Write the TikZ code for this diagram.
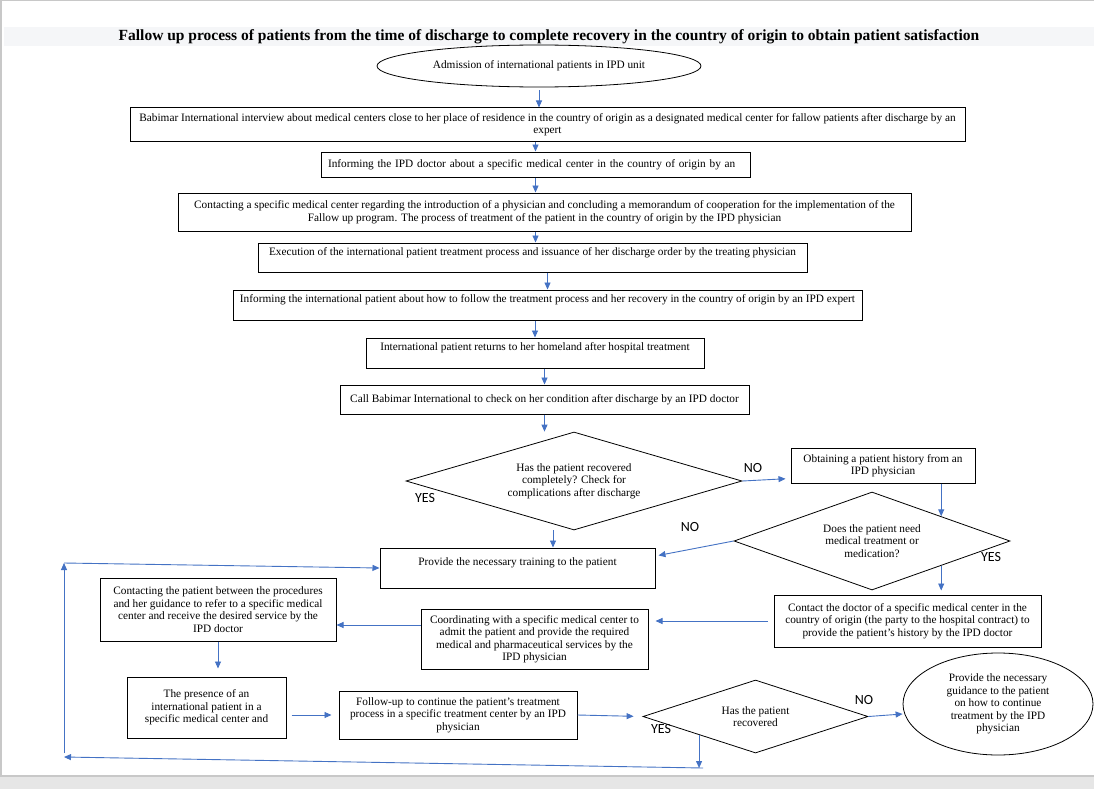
\documentclass[tikz,border=0pt]{standalone}
\usepackage{fontspec}
\setmainfont{Liberation Serif}
\newfontfamily\labelfont{Carlito}
\usetikzlibrary{shapes.geometric,arrows.meta}
\definecolor{flowblue}{HTML}{4472C4}
\definecolor{pagegray}{HTML}{E6E6E6}
\definecolor{edgegray}{HTML}{C8C8C8}
\definecolor{titleband}{HTML}{F5F6F8}

\begin{document}
\begin{tikzpicture}[x=1pt, y=-1pt,
    box/.style={rectangle, draw, line width=1pt, inner sep=2pt, align=center, font=\fontsize{11.3}{12.5}\selectfont},
    decision/.style={diamond, draw, line width=0.8pt, inner sep=0pt, align=center, font=\fontsize{11.3}{12.5}\selectfont},
    oval/.style={ellipse, draw, line width=0.8pt, inner sep=0pt, align=center, font=\fontsize{11.3}{12.5}\selectfont},
    flow/.style={draw=flowblue, line width=0.9pt, -{Triangle[width=6pt,length=7pt]}},
    answer/.style={font=\labelfont\fontsize{14}{14}\selectfont, inner sep=0pt}
]
\useasboundingbox (0,0) rectangle (1094,789);
\fill[white] (0,0) rectangle (1094,789);
\fill[pagegray] (0,776) rectangle (1094,789);
\draw[edgegray, line width=1.5pt] (0,776) -- (1094,776);
\draw[edgegray, line width=1.5pt] (0,0.75) -- (1094,0.75);
\draw[edgegray, line width=1.5pt] (0.75,0) -- (0.75,776);
\fill[titleband] (4,27) rectangle (1094,46);

\node[font=\bfseries\fontsize{15.5}{17}\selectfont] (title) at (549,37) {Fallow up process of patients from the time of discharge to complete recovery in the country of origin to obtain patient satisfaction};

\node[oval, minimum width=324pt, minimum height=42pt] (admit) at (539,66) {Admission of international patients in IPD unit};
\node[box, minimum width=835pt, minimum height=33pt] (interview) at (547.5,124.5) {Babimar International interview about medical centers close to her place of residence in the country of origin as a designated medical center for fallow patients after discharge by an\\ expert};
\node[box, text width=415pt, align=left, inner xsep=7pt, minimum height=25pt] (inform) at (535.5,164.5) {Informing the IPD doctor about a specific medical center in the country of origin by an};
\node[box, minimum width=733pt, minimum height=38pt] (contact) at (544.5,212) {Contacting a specific medical center regarding the introduction of a physician and concluding a memorandum of cooperation for the implementation of the\\ Fallow up program. The process of treatment of the patient in the country of origin by the IPD physician};
\node[box, minimum width=549pt, minimum height=29pt] (execute) at (532.5,257.5) {Execution of the international patient treatment process and issuance of her discharge order by the treating physician\\ ~};
\node[box, minimum width=629pt, minimum height=30pt] (educate) at (547.5,305) {Informing the international patient about how to follow the treatment process and her recovery in the country of origin by an IPD expert\\ ~};
\node[box, minimum width=338pt, minimum height=30pt] (return) at (535,353) {International patient returns to her homeland after hospital treatment\\ ~};
\node[box, minimum width=409pt, minimum height=29pt] (call) at (544.5,399.5) {Call Babimar International to check on her condition after discharge by an IPD doctor};

\node[decision, aspect=3.43, minimum width=336pt, minimum height=98pt] (recovered) at (574,481) {Has the patient recovered\\ completely? Check for\\ complications after discharge};
\node[box, minimum width=184pt, minimum height=35pt] (history) at (883,465.5) {Obtaining a patient history from an\\ IPD physician};
\node[decision, aspect=2.8, minimum width=276pt, minimum height=98pt] (need) at (872,541) {Does the patient need\\ medical treatment or\\ medication?};
\node[box, minimum width=275pt, minimum height=40pt] (training) at (517.5,568) {Provide the necessary training to the patient\\ ~};
\node[box, minimum width=267pt, minimum height=52pt] (doctor) at (907.5,621) {Contact the doctor of a specific medical center in the\\ country of origin (the party to the hospital contract) to\\ provide the patient’s history by the IPD doctor};
\node[box, minimum width=227pt, minimum height=60pt] (coord) at (534.5,639) {Coordinating with a specific medical center to\\ admit the patient and provide the required\\ medical and pharmaceutical services by the\\ IPD physician};
\node[box, minimum width=236pt, minimum height=63pt] (guide) at (218,609.5) {Contacting the patient between the procedures\\ and her guidance to refer to a specific medical\\ center and receive the desired service by the\\ IPD doctor};
\node[box, minimum width=159pt, minimum height=61pt] (presence) at (206.5,707.5) {The presence of an\\ international patient in a\\ specific medical center and};
\node[box, minimum width=238pt, minimum height=48pt] (followup) at (458,715) {Follow-up to continue the patient’s treatment\\ process in a specific treatment center by an IPD\\ physician};
\node[decision, aspect=3.08, minimum width=225pt, minimum height=73pt] (healed) at (755.5,716.5) {Has the patient\\ recovered};
\node[oval, minimum width=190pt, minimum height=102pt] (guidance) at (998,704) {Provide the necessary\\ guidance to the patient\\ on how to continue\\ treatment by the IPD\\ physician};

\node[answer] (yes1) at (425,498) {YES};
\node[answer] (no1) at (753,468) {NO};
\node[answer] (no2) at (690,527) {NO};
\node[answer] (yes2) at (991,557) {YES};
\node[answer] (yes3) at (661,729) {YES};
\node[answer] (no3) at (864,700) {NO};

\coordinate (loopR) at (703,768);
\coordinate (loopL) at (64,757);
\coordinate (loopT) at (64,563);

\draw[flow, shorten <=3pt] (admit.south) -- (admit.south |- interview.north);
\draw[flow] (inform.north |- interview.south) -- (inform.north);
\draw[flow] (inform.south) -- (inform.south |- contact.north);
\draw[flow] (inform.south |- contact.south) -- (inform.south |- execute.north);
\draw[flow] (educate.north |- execute.south) -- (educate.north);
\draw[flow] (return.north |- educate.south) -- (return.north);
\draw[flow] (call.north |- return.south) -- (call.north);
\draw[flow] (call.south) -- (call.south |- recovered.north);
\draw[flow, shorten >=5pt] (recovered.east) -- ([yshift=-13pt]history.west);
\draw[flow] (history.south -| need.north east) -- (need.north east);
\draw[flow, shorten >=3pt] (need.west) -- ([yshift=12pt]training.east);
\draw[flow] ([xshift=-21pt]recovered.south) -- ([xshift=-21pt]recovered.south |- training.north);
\draw[flow, shorten >=4pt] (need.south east) -- (need.south east |- doctor.north);
\draw[flow, shorten <=6pt, shorten >=7pt] (doctor.west) -- (doctor.west -| coord.east);
\draw[flow] ([yshift=14pt]coord.west) -- ([yshift=14pt]coord.west -| guide.east);
\draw[flow, shorten >=8pt] (guide.south) -- (guide.south |- presence.north);
\draw[flow, shorten <=5pt, shorten >=7pt] (followup.west -| presence.east) -- (followup.west);
\draw[flow, shorten >=9pt] (followup.east) -- (healed.west);
\draw[flow] (healed.east) -- ([yshift=-10pt]guidance.west);
\draw[flow] (healed.south west) -- (healed.south west |- loopR);
\draw[flow] (loopR) -- (loopL);
\draw[flow, shorten <=4pt] (loopL) -- (loopT);
\draw[flow] (loopT) -- (training.west);
\end{tikzpicture}
\end{document}
